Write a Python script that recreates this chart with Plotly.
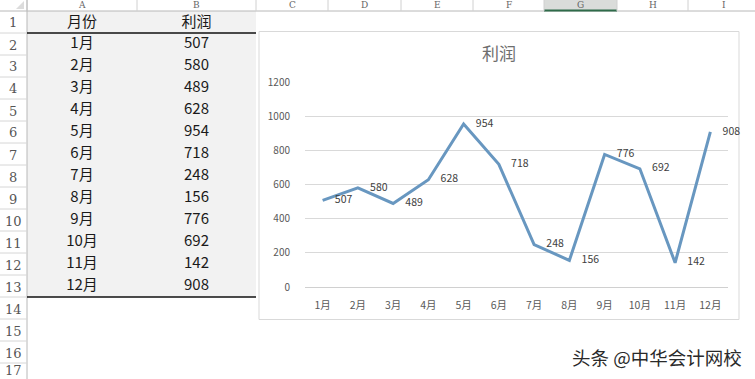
import plotly.graph_objects as go

# ---------------- data ----------------
months = ["1月", "2月", "3月", "4月", "5月", "6月", "7月", "8月", "9月", "10月", "11月", "12月"]
profit = [507, 580, 489, 628, 954, 718, 248, 156, 776, 692, 142, 908]
table_headers = ["月份", "利润"]
col_letters = ["A", "B", "C", "D", "E", "F", "G", "H", "I"]
y_ticks = [0, 200, 400, 600, 800, 1000, 1200]
chart_title = "利润"
watermark = "头条 @中华会计网校"

# ---------------- layout helpers (pixels -> paper) ----------------
W, H = 755, 379
def px(x):
    return x / W
def py(y):
    return 1 - y / H

HDR_H = 11          # column header height
ROW_H = 22          # row height
ROWHDR_W = 27       # row header width
col_edges = [27, 137, 256, 328, 401, 473, 544, 617, 688, 760]

CJK = "Noto Sans CJK SC"
shapes = []
annotations = []

# table grey fill A1:B13
shapes.append(dict(type="rect", xref="paper", yref="paper", layer="below",
                   x0=px(col_edges[0]), x1=px(col_edges[2]),
                   y0=py(HDR_H + 13 * ROW_H), y1=py(HDR_H),
                   fillcolor="#f2f2f2", line=dict(width=0)))

# column header bar
shapes.append(dict(type="rect", xref="paper", yref="paper", layer="below",
                   x0=0, x1=1, y0=py(HDR_H), y1=1,
                   fillcolor="#ffffff", line=dict(width=0)))
# selected column G header
shapes.append(dict(type="rect", xref="paper", yref="paper", layer="below",
                   x0=px(col_edges[6]), x1=px(col_edges[7]), y0=py(HDR_H), y1=1,
                   fillcolor="#dadcda", line=dict(width=0)))
shapes.append(dict(type="line", xref="paper", yref="paper", layer="below",
                   x0=0, x1=1, y0=py(HDR_H), y1=py(HDR_H),
                   line=dict(color="#b8b8b8", width=1)))
shapes.append(dict(type="line", xref="paper", yref="paper", layer="below",
                   x0=px(col_edges[6]), x1=px(col_edges[7]), y0=py(HDR_H - 0.5), y1=py(HDR_H - 0.5),
                   line=dict(color="#2f6b4a", width=2)))
for e in col_edges[:-1]:
    shapes.append(dict(type="line", xref="paper", yref="paper", layer="below",
                       x0=px(e), x1=px(e), y0=py(HDR_H), y1=1,
                       line=dict(color="#d0d0d0", width=1)))
for i, letter in enumerate(col_letters):
    annotations.append(dict(xref="paper", yref="paper",
                            x=px((col_edges[i] + col_edges[i + 1]) / 2), y=py(5),
                            text=letter, showarrow=False,
                            font=dict(family="DejaVu Serif", size=9, color="#666666"),
                            xanchor="center", yanchor="middle"))

# row header
shapes.append(dict(type="line", xref="paper", yref="paper", layer="below",
                   x0=px(ROWHDR_W), x1=px(ROWHDR_W), y0=0, y1=1,
                   line=dict(color="#b8b8b8", width=1)))
for r in range(1, 18):
    yb = HDR_H + r * ROW_H
    shapes.append(dict(type="line", xref="paper", yref="paper", layer="below",
                       x0=0, x1=px(ROWHDR_W), y0=py(yb), y1=py(yb),
                       line=dict(color="#d6d6d6", width=1)))
    annotations.append(dict(xref="paper", yref="paper",
                            x=px(13), y=py(min(yb - ROW_H / 2 + 1, 370)),
                            text=str(r), showarrow=False,
                            font=dict(family="DejaVu Serif", size=13, color="#555555"),
                            xanchor="center", yanchor="middle"))
# corner triangle
shapes.append(dict(type="path", xref="paper", yref="paper", layer="below",
                   path=f"M {px(24)} {py(9)} L {px(24)} {py(1)} L {px(16)} {py(9)} Z",
                   fillcolor="#dcdcdc", line=dict(width=0)))

# black lines under header row and row 13
for yb in (HDR_H + ROW_H, HDR_H + 13 * ROW_H):
    shapes.append(dict(type="line", xref="paper", yref="paper", layer="below",
                       x0=px(col_edges[0]), x1=px(col_edges[2]), y0=py(yb), y1=py(yb),
                       line=dict(color="#111111", width=1.5)))

# chart area box
shapes.append(dict(type="rect", xref="paper", yref="paper", layer="below",
                   x0=px(259), x1=px(739), y0=py(319.5), y1=py(31.5),
                   fillcolor="#ffffff", line=dict(color="#d9d9d9", width=1)))

# title and watermark
annotations.append(dict(xref="paper", yref="paper", x=px(499), y=py(53),
                        text=chart_title, showarrow=False,
                        font=dict(family=CJK, size=17, color="#6e6e6e"),
                        xanchor="center", yanchor="middle"))
annotations.append(dict(xref="paper", yref="paper", x=px(744), y=py(357),
                        text=watermark, showarrow=False,
                        font=dict(family=CJK, size=18.5, color="#2a2a2a"),
                        xanchor="right", yanchor="middle"))

fig = go.Figure()

# ---------------- spreadsheet table text (pixel-scaled hidden axes) ----------------
cA = (col_edges[0] + col_edges[1]) / 2
cB = (col_edges[1] + col_edges[2]) / 2
row_centers = [HDR_H + ROW_H * (i + 1) + ROW_H / 2 for i in range(len(months))]
hdr_center = HDR_H + ROW_H / 2 + 1
fig.add_trace(go.Scatter(
    x=[cA, cB] + [cA] * len(months) + [cB] * len(profit),
    y=[hdr_center, hdr_center] + row_centers + row_centers,
    text=table_headers + months + [str(v) for v in profit],
    mode="text", textposition="middle center",
    textfont=dict(family=CJK, size=15, color="#1a1a1a"),
    xaxis="x2", yaxis="y2", hoverinfo="skip", showlegend=False))

# ---------------- line chart ----------------
fig.add_trace(go.Scatter(
    x=months, y=profit, mode="lines+markers+text",
    line=dict(color="#6897c0", width=3),
    marker=dict(size=18, color="rgba(0,0,0,0)"),
    text=[str(v) for v in profit], textposition="middle right",
    textfont=dict(family=CJK, size=10.5, color="#404040"),
    showlegend=False, cliponaxis=False, hoverinfo="skip"))

fig.update_layout(
    template="none",
    width=W, height=H,
    margin=dict(l=0, r=0, t=0, b=0, pad=0, autoexpand=False),
    paper_bgcolor="#ffffff", plot_bgcolor="rgba(0,0,0,0)",
    shapes=shapes, annotations=annotations,
    xaxis=dict(domain=[px(305), px(728)], type="category", range=[-0.5, 11.5],
               automargin=False,
               showgrid=False, zeroline=False, showline=False,
               ticks="outside", ticklen=8, tickcolor="rgba(0,0,0,0)",
               tickfont=dict(family=CJK, size=10.5, color="#595959")),
    yaxis=dict(domain=[py(287), py(82)], range=[0, 1200], tickvals=y_ticks,
               automargin=False,
               showgrid=True, gridcolor="#d9d9d9", gridwidth=1,
               zeroline=True, zerolinecolor="#d0d0d0", zerolinewidth=1, showline=False,
               ticks="outside", ticklen=12, tickcolor="rgba(0,0,0,0)",
               tickfont=dict(family=CJK, size=10, color="#595959")),
    xaxis2=dict(domain=[0, 1], range=[0, W], visible=False, fixedrange=True, automargin=False),
    yaxis2=dict(domain=[0, 1], range=[H, 0], visible=False, fixedrange=True, automargin=False),
)

fig.write_html("out.html",
               config={"displayModeBar": False},
               post_script="document.body.style.margin='0';document.body.style.overflow='hidden';")
